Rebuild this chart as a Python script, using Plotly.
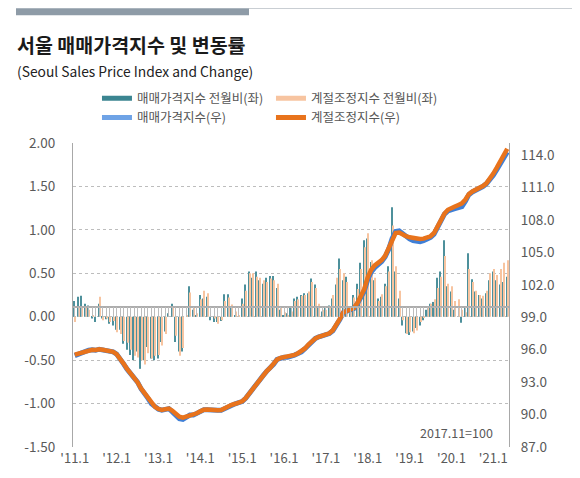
import plotly.graph_objects as go

# months '11.1 ~ '21.5
months = [f"{y}.{m:02d}" for y in range(2011, 2022) for m in range(1, 13)][:125]

# 매매가격지수 전월비 (%)
mom_sales = [
    0.18, 0.23, 0.24, 0.15, 0.13, -0.02, -0.06, 0.15, -0.02, -0.03, -0.08, -0.10,
    -0.15, -0.15, -0.31, -0.38, -0.44, -0.50, -0.40, -0.60, -0.50, -0.35, -0.48, -0.50,
    -0.48, -0.29, -0.17, 0.04, 0.15, -0.29, -0.40, -0.40, 0.00, 0.35, 0.08, 0.02,
    0.25, 0.21, 0.23, -0.04, -0.06, -0.06, -0.05, 0.26, 0.26, 0.10, 0.02, 0.00,
    0.21, 0.37, 0.52, 0.45, 0.52, 0.42, 0.38, 0.45, 0.47, 0.47, 0.33, 0.08,
    0.02, 0.04, 0.10, 0.21, 0.23, 0.25, 0.27, 0.27, 0.44, 0.37, 0.10, 0.06,
    0.10, 0.13, 0.21, 0.37, 0.67, 0.42, 0.46, 0.04, 0.25, 0.38, 0.62, 0.88,
    0.90, 0.63, 0.42, 0.21, 0.23, 0.38, 0.58, 1.26, 0.52, 0.21, -0.10, -0.19,
    -0.21, -0.17, -0.13, -0.10, -0.04, 0.08, 0.15, 0.17, 0.45, 0.52, 0.88, 0.35,
    0.29, 0.08, 0.00, -0.07, 0.12, 0.73, 0.43, 0.29, 0.25, 0.21, 0.27, 0.42,
    0.52, 0.42, 0.37, 0.40, 0.46,
]

# 계절조정지수 전월비 (%)
mom_adjusted = [
    -0.06, 0.10, 0.12, 0.10, 0.08, 0.02, 0.00, 0.23, -0.04, -0.02, -0.06, -0.05,
    -0.18, -0.20, -0.28, -0.30, -0.38, -0.45, -0.47, -0.50, -0.55, -0.42, -0.48, -0.45,
    -0.44, -0.33, -0.20, 0.00, 0.10, -0.22, -0.45, -0.36, 0.02, 0.28, 0.12, 0.04,
    0.20, 0.30, 0.27, 0.00, -0.02, -0.08, -0.04, 0.18, 0.22, 0.14, 0.06, 0.02,
    0.15, 0.30, 0.50, 0.50, 0.46, 0.45, 0.42, 0.40, 0.44, 0.42, 0.38, 0.12,
    0.05, 0.02, 0.06, 0.18, 0.20, 0.24, 0.25, 0.29, 0.40, 0.33, 0.15, 0.08,
    0.08, 0.10, 0.25, 0.45, 0.55, 0.50, 0.40, 0.10, 0.22, 0.32, 0.55, 0.80,
    0.96, 0.65, 0.45, 0.18, 0.26, 0.35, 0.52, 1.05, 0.58, 0.30, -0.04, -0.20,
    -0.18, -0.19, -0.16, -0.06, -0.01, 0.10, 0.15, 0.20, 0.33, 0.46, 0.70, 0.38,
    0.35, 0.18, 0.20, 0.08, 0.05, 0.55, 0.40, 0.30, 0.25, 0.24, 0.30, 0.50,
    0.55, 0.48, 0.55, 0.62, 0.65,
]

# 매매가격지수 (2017.11=100)
idx_sales = [
    95.45, 95.60, 95.75, 95.90, 95.95, 96.00, 95.95, 96.05, 96.00, 95.95, 95.95, 95.80,
    95.60, 95.20, 94.70, 94.20, 93.80, 93.50, 93.00, 92.40, 92.00, 91.50, 91.00, 90.70,
    90.50, 90.40, 90.50, 90.55, 90.25, 89.90, 89.62, 89.55, 89.72, 89.95, 89.95, 90.10,
    90.30, 90.45, 90.45, 90.40, 90.40, 90.40, 90.40, 90.55, 90.80, 90.90, 91.00, 91.10,
    91.20, 91.50, 91.95, 92.35, 92.80, 93.20, 93.60, 94.00, 94.30, 94.65, 95.10, 95.25,
    95.30, 95.30, 95.35, 95.50, 95.65, 95.80, 96.10, 96.45, 96.80, 97.05, 97.20, 97.30,
    97.35, 97.50, 97.75, 98.20, 98.80, 99.45, 99.60, 99.65, 99.80, 100.25, 100.80, 101.40,
    102.50, 103.20, 103.60, 103.85, 104.15, 104.60, 105.30, 106.30, 106.95, 107.00, 106.70, 106.45,
    106.25, 106.10, 106.05, 106.00, 106.10, 106.20, 106.40, 106.70, 107.30, 107.90, 108.55, 108.85,
    109.00, 109.05, 109.15, 109.25, 109.75, 110.35, 110.60, 110.75, 110.90, 111.10, 111.35, 111.70,
    112.15, 112.65, 113.20, 113.80, 114.30,
]

# 계절조정지수 (2017.11=100)
idx_adjusted = [
    95.55, 95.65, 95.78, 95.90, 95.95, 96.00, 95.98, 96.05, 96.00, 95.95, 95.92, 95.80,
    95.60, 95.22, 94.72, 94.22, 93.82, 93.50, 93.00, 92.42, 92.00, 91.50, 91.02, 90.72,
    90.52, 90.42, 90.50, 90.55, 90.35, 90.05, 89.80, 89.72, 89.80, 89.95, 89.98, 90.12,
    90.30, 90.45, 90.48, 90.42, 90.40, 90.40, 90.42, 90.58, 90.80, 90.90, 91.00, 91.10,
    91.22, 91.52, 91.95, 92.35, 92.80, 93.20, 93.60, 94.00, 94.32, 94.68, 95.10, 95.25,
    95.30, 95.32, 95.38, 95.52, 95.68, 95.85, 96.12, 96.48, 96.82, 97.05, 97.20, 97.30,
    97.38, 97.52, 97.80, 98.25, 98.85, 99.45, 99.62, 99.70, 99.85, 100.30, 100.90, 101.60,
    102.70, 103.40, 103.80, 104.00, 104.30, 104.70, 105.40, 106.30, 106.80, 106.85, 106.65, 106.50,
    106.40, 106.32, 106.30, 106.25, 106.28, 106.35, 106.50, 106.80, 107.40, 108.00, 108.60, 108.95,
    109.15, 109.25, 109.40, 109.55, 109.90, 110.40, 110.65, 110.80, 110.95, 111.15, 111.40, 111.80,
    112.30, 112.85, 113.45, 114.05, 114.60,
]

left_ticks = [2.0, 1.5, 1.0, 0.5, 0.0, -0.5, -1.0, -1.5]
left_labels = ["2.00", "1.50", "1.00", "0.50", "0.00", "-0.50", "-1.00", "-1.50"]
right_ticks = [114, 111, 108, 105, 102, 99, 96, 93, 90, 87]
right_labels = ["114.0", "111.0", "108.0", "105.0", "102.0", "99.0", "96.0", "93.0", "90.0", "87.0"]
year_ticks = [f"{y}.01" for y in range(2011, 2022)]
year_labels = [f"'{y % 100}.1" for y in range(2011, 2022)]

names = ["매매가격지수 전월비(좌)", "계절조정지수 전월비(좌)", "매매가격지수(우)", "계절조정지수(우)"]
colors = ["#3b8591", "#f7c4a0", "#6fa3e6", "#e8731c"]
bar_teal = "#4d909b"
line_blue = "#3f7fd6"

FONT = "Noto Sans CJK KR"
GRAY = "#595959"

# the page body has an 8px margin, so the figure is drawn 8px in from the corner
PAGE_OFF = 8

fig = go.Figure()

# legend entries drawn as thick strokes
for name, color in zip(names, colors):
    fig.add_trace(go.Scatter(x=[None], y=[None], mode="lines", name=name,
                             line=dict(color=color, width=5), hoverinfo="skip"))

fig.add_trace(go.Bar(x=months, y=mom_sales, marker_color=bar_teal,
                     marker_line_width=0, showlegend=False, name=names[0]))
fig.add_trace(go.Bar(x=months, y=mom_adjusted, marker_color=colors[1],
                     marker_line_width=0, showlegend=False, name=names[1]))
fig.add_trace(go.Scatter(x=months, y=idx_sales, xaxis="x2", yaxis="y2", mode="lines",
                         line=dict(color=line_blue, width=5), showlegend=False, name=names[2]))
fig.add_trace(go.Scatter(x=months, y=idx_adjusted, xaxis="x2", yaxis="y2", mode="lines",
                         line=dict(color=colors[3], width=4.5), showlegend=False, name=names[3]))

y2_min, y2_max = 87, 115.13

fig.update_layout(
    width=580 - 2 * PAGE_OFF, height=478 - 2 * PAGE_OFF,
    margin=dict(l=73 - PAGE_OFF, r=580 - PAGE_OFF - 509, t=143 - PAGE_OFF,
                b=478 - PAGE_OFF - 446.7, autoexpand=False),
    paper_bgcolor="white", plot_bgcolor="white",
    font=dict(family=FONT, color=GRAY, size=13),
    barmode="group", bargap=0.4, bargroupgap=0,
    xaxis=dict(type="category", range=[-0.5, 124.5], tickmode="array",
               tickvals=year_ticks, ticktext=year_labels, ticks="",
               showgrid=False, showline=False, zeroline=False, automargin=False,
               ticklabelstandoff=2, tickfont=dict(size=13, color=GRAY)),
    xaxis2=dict(type="category", overlaying="x", anchor="free",
                position=(100 - y2_min) / (y2_max - y2_min), side="bottom",
                range=[-0.5, 124.5], tickmode="linear", tick0=0, dtick=1,
                ticks="outside", ticklen=10, tickwidth=1, tickcolor="#bcbcbc",
                showline=True, linecolor="#adadad", linewidth=1.5, automargin=False,
                showticklabels=False, showgrid=False, zeroline=False),
    yaxis=dict(range=[-1.5, 2.0], tickmode="array", tickvals=left_ticks,
               ticktext=left_labels, showgrid=True, gridcolor="#bdbdbd",
               griddash="dot", gridwidth=1, zeroline=False, showline=True,
               linecolor="#a8a8a8", linewidth=1.2, ticks="", ticklabelstandoff=14,
               automargin=False, tickfont=dict(size=13.5, color=GRAY)),
    yaxis2=dict(range=[y2_min, y2_max], overlaying="y", side="right",
                tickmode="array", tickvals=right_ticks, ticktext=right_labels,
                showgrid=False, zeroline=False, showline=True,
                linecolor="#a8a8a8", linewidth=1.2, ticks="", ticklabelstandoff=8,
                automargin=False, tickfont=dict(size=13.5, color=GRAY)),
    legend=dict(orientation="h", x=0.055, xanchor="left", y=1.195, yanchor="top",
                entrywidth=129, entrywidthmode="pixels", tracegroupgap=0,
                itemwidth=30, font=dict(size=12.5, color="#555555"),
                bgcolor="rgba(0,0,0,0)"),
    shapes=[
        dict(type="rect", xref="paper", yref="paper",
             x0=(16 - 73) / 436, x1=(249 - 73) / 436,
             y0=(446.7 - 15.5) / 303.7, y1=(446.7 - 8.5) / 303.7,
             fillcolor="#8e9ba7", line_width=0),
        dict(type="line", xref="paper", yref="paper",
             x0=(249 - 73) / 436, x1=(580 - 73) / 436,
             y0=(446.7 - 8.5) / 303.7, y1=(446.7 - 8.5) / 303.7,
             line=dict(color="#c9ced3", width=1.2)),
    ],
    annotations=[
        dict(text="<b>서울 매매가격지수 및 변동률</b>", xref="paper", yref="paper",
             x=(15 - 73) / 436, y=(446.7 - 45) / 303.7, xanchor="left", yanchor="middle",
             showarrow=False, font=dict(family=FONT, size=19.5, color="#1a1a1a")),
        dict(text="(Seoul Sales Price Index and Change)", xref="paper", yref="paper",
             x=(15 - 73) / 436, y=(446.7 - 71) / 303.7, xanchor="left", yanchor="middle",
             showarrow=False, font=dict(family=FONT, size=13.8, color="#222222")),
        dict(text="2017.11=100", xref="paper", yref="paper",
             x=(495 - 73) / 436, y=(446.7 - 432) / 303.7, xanchor="right", yanchor="middle",
             showarrow=False, font=dict(family=FONT, size=12.5, color=GRAY)),
    ],
)

fig.write_html("out.html")
